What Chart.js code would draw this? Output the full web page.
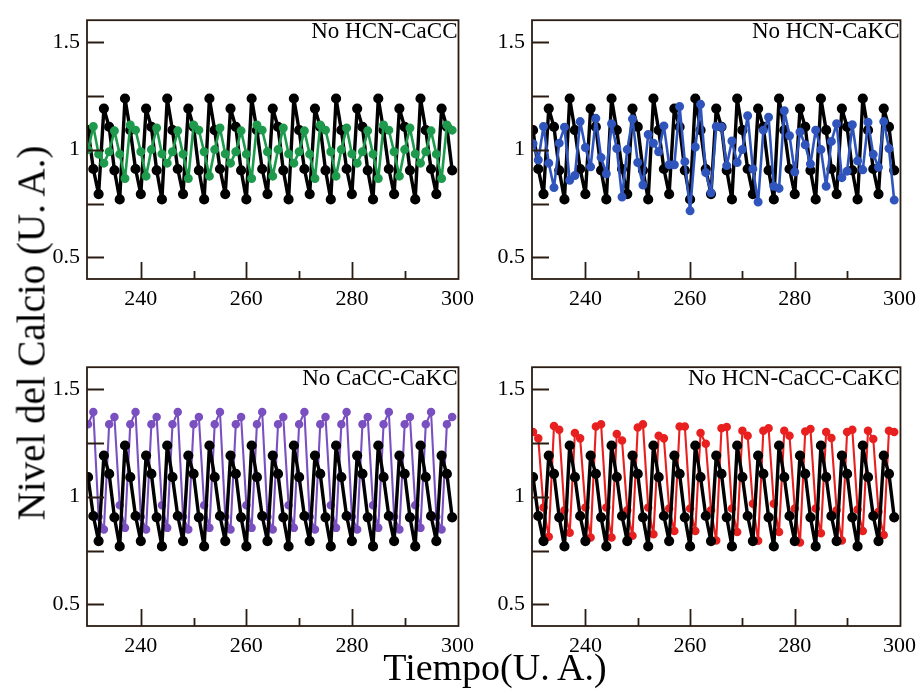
<!DOCTYPE html>
<html>
<head>
<meta charset="utf-8">
<script src="https://cdn.jsdelivr.net/npm/chart.js@4.4.1/dist/chart.umd.min.js"></script>
<style>
  html, body { margin: 0; padding: 0; background: #fff; }
  body { width: 920px; height: 693px; position: relative; overflow: hidden; font-family: "Liberation Serif", "Times New Roman", serif; }
  canvas { position: absolute; }
  .ytitle { position: absolute; left: 31px; top: 333px; transform: translate(-50%, -50%) rotate(-90deg); font-size: 39px; white-space: nowrap; color: #000; }
  .xtitle { position: absolute; left: 495px; top: 667px; transform: translate(-50%, -50%); font-size: 38px; white-space: nowrap; color: #000; }
</style>
</head>
<body>
<canvas id="p1"></canvas>
<canvas id="p2"></canvas>
<canvas id="p3"></canvas>
<canvas id="p4"></canvas>
<div class="ytitle">Nivel del Calcio (U. A.)</div>
<div class="xtitle">Tiempo(U. A.)</div>
<script>
// tiempo (U. A.)
const tiempo = [
  230, 231, 232, 233, 234, 235, 236, 237, 238, 239,
  240, 241, 242, 243, 244, 245, 246, 247, 248, 249,
  250, 251, 252, 253, 254, 255, 256, 257, 258, 259,
  260, 261, 262, 263, 264, 265, 266, 267, 268, 269,
  270, 271, 272, 273, 274, 275, 276, 277, 278, 279,
  280, 281, 282, 283, 284, 285, 286, 287, 288, 289,
  290, 291, 292, 293, 294, 295, 296, 297, 298, 299
];

// curva de control (negra), igual en los cuatro paneles
const control = [
  1.09, 0.91, 0.794,
  1.19, 1.105, 0.904, 0.769, 1.237, 1.09, 0.91, 0.794,
  1.19, 1.105, 0.904, 0.769, 1.237, 1.09, 0.91, 0.794,
  1.19, 1.105, 0.904, 0.769, 1.237, 1.09, 0.91, 0.794,
  1.19, 1.105, 0.904, 0.769, 1.237, 1.09, 0.91, 0.794,
  1.19, 1.105, 0.904, 0.769, 1.237, 1.09, 0.91, 0.794,
  1.19, 1.105, 0.904, 0.769, 1.237, 1.09, 0.91, 0.794,
  1.19, 1.105, 0.904, 0.769, 1.237, 1.09, 0.91, 0.794,
  1.19, 1.105, 0.904, 0.769, 1.237, 1.09, 0.91, 0.794,
  1.19, 1.105, 0.904
];

const noHcnCacc = [
  1.0, 1.107, 0.979, 0.937, 0.99, 1.087, 0.979,
  0.866, 1.114, 1.09, 0.99, 0.877, 1.0, 1.10, 0.98, 0.937, 0.99, 1.087, 0.979,
  0.866, 1.114, 1.09, 0.99, 0.877, 1.0, 1.10, 0.98, 0.937, 0.99, 1.087, 0.979,
  0.866, 1.114, 1.09, 0.99, 0.877, 1.0, 1.10, 0.98, 0.937, 0.99, 1.087, 0.979,
  0.866, 1.114, 1.09, 0.99, 0.877, 1.0, 1.10, 0.98, 0.937, 0.99, 1.087, 0.979,
  0.866, 1.114, 1.09, 0.99, 0.877, 1.0, 1.10, 0.98, 0.937, 0.99, 1.087, 0.979,
  0.866, 1.114, 1.09
];

const noHcnCakc = [
  1.027, 0.952, 1.107, 0.937, 0.824, 1.03, 1.104, 0.858, 0.88, 1.13,
  1.01, 0.92, 1.145, 0.963, 0.888, 1.12, 1.005, 0.78, 1.0, 1.142,
  0.94, 0.836, 1.07, 1.03, 0.99, 1.11, 0.93, 0.93, 1.2, 0.944,
  0.716, 1.012, 1.21, 0.893, 0.8, 1.107, 1.105, 0.926, 1.04, 0.94,
  1.0, 1.157, 0.91, 0.757, 1.09, 1.15, 0.83, 0.82, 1.18, 1.064,
  0.896, 1.082, 1.022, 0.933, 1.09, 1.0, 0.83, 1.038, 1.12, 0.87,
  0.9, 1.115, 0.948, 0.906, 1.127, 0.978, 0.918, 1.13, 1.005, 0.766
];

const noCaccCakc = [
  1.335, 1.392, 0.907, 0.847, 1.335, 1.369, 0.96, 0.855,
  1.335, 1.392, 0.907, 0.847, 1.335, 1.369, 0.96, 0.855,
  1.335, 1.392, 0.907, 0.847, 1.335, 1.369, 0.96, 0.855,
  1.335, 1.392, 0.907, 0.847, 1.335, 1.369, 0.96, 0.855,
  1.335, 1.392, 0.907, 0.847, 1.335, 1.369, 0.96, 0.855,
  1.335, 1.392, 0.907, 0.847, 1.335, 1.369, 0.96, 0.855,
  1.335, 1.392, 0.907, 0.847, 1.335, 1.369, 0.96, 0.855,
  1.335, 1.392, 0.907, 0.847, 1.335, 1.369, 0.96, 0.855,
  1.335, 1.392, 0.907, 0.847, 1.335, 1.369
];

const noHcnCaccCakc = [
  1.30, 1.27, 0.949, 0.814, 1.327, 1.31, 0.937, 0.832, 1.295, 1.27,
  0.95, 0.81, 1.325, 1.335, 0.949, 0.81, 1.29, 1.26, 0.937, 0.818,
  1.32, 1.335, 0.95, 0.825, 1.282, 1.27, 0.945, 0.84, 1.325, 1.325,
  0.945, 0.84, 1.295, 1.245, 0.937, 0.797, 1.317, 1.323, 0.945, 0.836,
  1.305, 1.282, 0.967, 0.795, 1.305, 1.317, 0.967, 0.836, 1.305, 1.282,
  0.945, 0.787, 1.302, 1.313, 0.945, 0.83, 1.30, 1.272, 0.937, 0.797,
  1.30, 1.31, 0.94, 0.84, 1.305, 1.267, 0.93, 0.822, 1.305, 1.30
];

const panelTitles = ['No HCN-CaCC', 'No HCN-CaKC', 'No CaCC-CaKC', 'No HCN-CaCC-CaKC'];

const SERIF = '"Liberation Serif", "Times New Roman", serif';
const FRAME = '#2a1c12';

const pts = (arr) => arr.map((v, i) => ({ x: tiempo[i], y: v }));

// marco, marcas hacia dentro y titulo del panel
const framePlugin = {
  id: 'panelFrame',
  afterDatasetsDraw(chart, args, opts) {
    const { ctx, chartArea: a } = chart;
    const x = chart.scales.x, y = chart.scales.y;
    ctx.save();
    ctx.strokeStyle = FRAME;
    ctx.lineWidth = 1.8;
    ctx.strokeRect(a.left, a.top, a.right - a.left, a.bottom - a.top);
    ctx.beginPath();
    y.ticks.forEach(t => {
      const py = Math.round(y.getPixelForValue(t.value)) + 0.5;
      ctx.moveTo(a.left, py);
      ctx.lineTo(a.left + 17, py);
    });
    x.ticks.forEach(t => {
      const px = Math.round(x.getPixelForValue(t.value)) + 0.5;
      if (px - a.left < 4 || a.right - px < 4) return;
      const len = t.value % 20 === 0 ? 17 : 8;
      ctx.moveTo(px, a.bottom);
      ctx.lineTo(px, a.bottom - len);
    });
    ctx.stroke();
    ctx.fillStyle = '#000';
    ctx.font = '23px ' + SERIF;
    ctx.textAlign = 'right';
    ctx.textBaseline = 'top';
    ctx.fillText(opts.title, a.right - 1, a.top + 0);
    ctx.restore();
  }
};

function makePanel(id, box, title, serie, color, lineW, colorOnTop) {
  const cv = document.getElementById(id);
  const padL = 7, axisW = 60, padT = 13, padR = 22, axisH = 34, padB = 6;
  cv.width = (box.right - box.left) + padL + axisW + padR;
  cv.height = (box.bottom - box.top) + padT + axisH + padB;
  cv.style.left = (box.left - padL - axisW) + 'px';
  cv.style.top = (box.top - padT) + 'px';

  new Chart(cv, {
    type: 'line',
    data: {
      datasets: [
        {
          data: pts(serie),
          borderColor: color,
          backgroundColor: color,
          borderWidth: lineW,
          pointRadius: 3.2,
          order: colorOnTop ? 0 : 1
        },
        {
          data: pts(control),
          borderColor: '#000',
          backgroundColor: '#000',
          borderWidth: 3.4,
          pointRadius: 3.4,
          order: colorOnTop ? 1 : 0
        }
      ]
    },
    options: {
      responsive: false,
      animation: false,
      devicePixelRatio: 1,
      layout: { padding: { left: padL, top: padT, right: padR, bottom: padB } },
      elements: {
        line: { tension: 0, borderJoinStyle: 'round', borderCapStyle: 'round' },
        point: { borderWidth: 0 }
      },
      plugins: {
        legend: { display: false },
        tooltip: { enabled: false },
        panelFrame: { title: title }
      },
      scales: {
        x: {
          type: 'linear',
          min: 229.8,
          max: 300.2,
          grid: { display: false, drawTicks: false },
          border: { display: false },
          afterFit: (s) => { s.height = axisH; },
          ticks: {
            stepSize: 10,
            includeBounds: false,
            autoSkip: false,
            maxRotation: 0,
            padding: 7,
            color: '#000',
            font: { family: SERIF, size: 22 },
            callback: (v) => (v % 20 === 0 ? String(v) : '')
          }
        },
        y: {
          min: 0.4,
          max: 1.6,
          grid: { display: false, drawTicks: false },
          border: { display: false },
          afterFit: (s) => { s.width = axisW; },
          ticks: {
            stepSize: 0.25,
            includeBounds: false,
            autoSkip: false,
            padding: 7,
            color: '#000',
            font: { family: SERIF, size: 22 },
            callback: (v) => (Math.abs(v * 2 - Math.round(v * 2)) < 1e-9 ? String(v) : '')
          }
        }
      }
    },
    plugins: [framePlugin]
  });
}

makePanel('p1', { left: 87, top: 13, right: 459, bottom: 279 }, panelTitles[0], noHcnCacc, '#1e9a4c', 2.6, true);
makePanel('p2', { left: 532, top: 13, right: 901, bottom: 279 }, panelTitles[1], noHcnCakc, '#2f55bd', 2.6, true);
makePanel('p3', { left: 87, top: 360, right: 459, bottom: 626 }, panelTitles[2], noCaccCakc, '#7a50c0', 2.1, false);
makePanel('p4', { left: 532, top: 360, right: 901, bottom: 626 }, panelTitles[3], noHcnCaccCakc, '#e8201f', 2.1, false);
</script>
</body>
</html>
